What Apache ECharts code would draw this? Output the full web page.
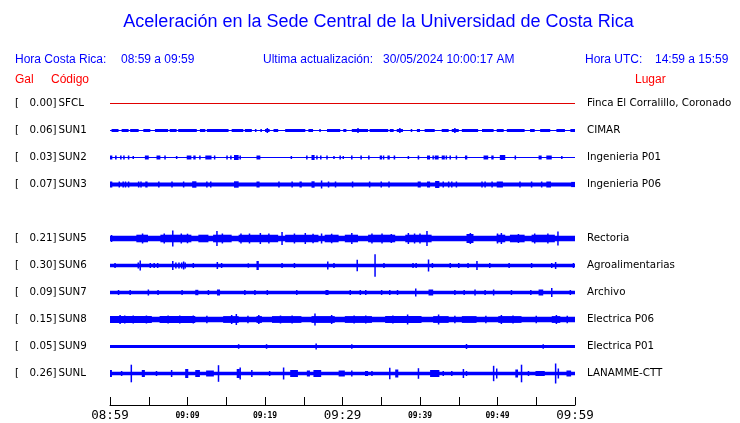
<!DOCTYPE html>
<html><head><meta charset="utf-8">
<script src="https://cdn.jsdelivr.net/npm/echarts@6/dist/echarts.min.js"></script>
<style>html,body{margin:0;padding:0;background:#fff}#c{width:740px;height:423px}</style>
</head><body><div id="c"></div>
<script>
// ---- data ----
const codes = ['SFCL','SUN1','SUN2','SUN3','SUN5','SUN6','SUN7','SUN8','SUN9','SUNL'];
const galPeaks = ['0.00','0.06','0.03','0.07','0.21','0.30','0.09','0.15','0.05','0.26'];
const places = ['Finca El Corralillo, Coronado','CIMAR','Ingenieria P01','Ingenieria P06','Rectoria','Agroalimentarias','Archivo','Electrica P06','Electrica P01','LANAMME-CTT'];
const rowSlots = [0,1,2,3,5,6,7,8,9,10];
const baseAmp = [0.5,0.5,0.5,2,2.7,1.7,1.7,2.7,1.6,1.8];
const timeTicks = ['08:59','09:09','09:19','09:29','09:39','09:49','09:59'];
// bursts: [start,end,amp] (minutes after 08:59) or spikes [t,amp]
const sfclBursts = [];
const sun1Bursts = [[0.2,1.1,1.5],[1.5,2.4,1.5],[2.6,3.7,1.5],[4.3,5.2,1.5],[5.8,7.5,1.5],[7.7,8.6,1.5],[8.8,11.2,1.5],[11.6,12.3,1.5],[12.5,15.3,1.5],[15.7,17.2,1.5],[17.4,18.3,1.5],[18.7,18.9,1.5],[19.4,19.6,1.5],[20.0,20.6,1.5],[21.1,21.7,1.5],[22.6,25.2,1.5],[25.6,26.2,1.5],[27.0,27.2,1.5],[28.0,29.7,1.5],[30.1,30.5,1.5],[31.2,33.3,1.5],[33.5,35.9,1.5],[36.1,36.6,1.5],[37.0,37.8,1.5],[38.8,39.0,1.5],[39.6,40.0,1.5],[40.6,41.9,1.5],[42.8,43.7,1.5],[44.1,45.0,1.5],[45.4,47.5,1.5],[48.0,49.5,1.5],[49.9,50.8,1.5],[51.2,53.5,1.5],[54.2,54.8,1.5],[55.5,56.8,1.5],[57.6,58.7,1.5],[59.4,60,1.5],[20.3,2.5],[32.0,2.5],[37.4,2.5],[44.5,2.5]];
const sun2Bursts = [[0,0.3,2],[0.65,0.86,2],[1.3,1.5,2],[1.7,1.9,2],[2.4,2],[3.0,1.5],[4.5,5.0,2],[6.0,6.5,2],[7.1,2],[8.6,1.5],[9.9,10.5,2],[10.75,11.05,2],[11.6,2],[12.3,13.1,2],[13.5,2],[15.1,2],[15.5,15.7,2],[16.0,16.6,2.5],[16.8,2],[18.9,19.4,2],[23.4,1.5],[25.4,2],[26.0,26.4,2.5],[26.7,2],[27.2,2],[28.0,2],[28.9,1.5],[29.7,2],[30.1,1.5],[31.2,2],[32.3,32.5,2],[33.3,33.5,2],[34.8,35.1,2],[35.3,2],[35.8,36.1,2],[36.6,36.8,2],[38.5,1.5],[39.7,39.9,2],[40.9,41.3,2],[41.7,2],[41.9,42.4,2],[42.8,43.2,2],[43.4,2],[43.9,2],[44.7,2],[45.8,46.1,2],[48.2,48.8,2],[49.2,49.5,2],[50.3,51.0,2.5],[52.3,2],[55.3,55.7,2],[56.3,57.0,2],[58.3,1.5]];
const sun3Bursts = [[0,0.3,3],[1.2,3],[1.7,3],[2.0,3],[2.4,3],[3.7,3],[4.0,3],[4.55,4.85,3],[6.3,3],[8.0,3],[9.5,3],[10.6,11.15,3.2],[12.5,3],[13.0,3],[16.0,16.6,3.2],[18.9,19.3,3],[21.8,3],[23.5,3],[24.45,24.75,3],[26.0,26.4,3.2],[27.3,4],[28.2,3],[29.1,3],[31.3,3],[33.5,3],[35.0,3],[36.0,3],[39.7,40.1,3],[40.9,41.3,3],[41.95,42.5,3.5],[43.0,3],[43.7,3],[44.1,3],[44.7,3],[48.0,3],[48.4,3],[49.3,3],[49.9,50.7,3],[52.9,3],[54.4,3],[55.7,3],[56.3,56.9,3],[59.5,60,2.6]];
const sun5Bursts = [[3.4,4.9,3.8],[6.5,10.5,3.8],[11.4,12.7,3.8],[13.3,15.7,3.8],[16.6,21.7,3.8],[22.6,26.9,3.8],[27.7,29.5,3.8],[30.3,32.0,3.8],[33.3,36.8,3.8],[38.1,41.5,3.8],[46.0,46.9,4.5],[49.9,51.0,3.8],[51.6,53.5,3.8],[54.4,57.4,3.8],[0.2,3.5],[8.1,8],[13.8,7.5],[19.4,5.5],[22.2,6.5],[25.2,5.5],[27.3,5],[31.2,5.5],[36.3,4.5],[38.5,5.5],[40.0,5],[40.9,7.5],[46.5,5.5],[50.5,5.5],[52.7,4.5],[57.8,7],[4.2,5],[7.0,5],[9.2,5],[10.0,4.8],[14.5,5],[16.9,5],[18.0,5],[20.5,5],[23.8,5],[26.2,4.8],[28.6,4.8],[33.8,5],[35.1,5],[39.3,5],[50.0,5],[54.8,5],[56.5,5]];
const sun6Bursts = [[0.65,2.5],[3.55,3.75,3],[3.9,5],[5.2,2.5],[5.7,2.5],[6.15,2.5],[8.1,4.5],[8.5,3],[8.9,3],[9.25,3],[9.5,4],[9.7,3],[10.75,2.5],[13.85,3.5],[14.4,2.5],[17.85,2.2],[18.9,19.2,4.5],[22.2,2.5],[23.8,2.5],[28.1,4],[28.9,2.5],[31.9,5.8],[34.2,11.3],[35.35,2.5],[39.1,2.5],[39.5,2.5],[41.1,6],[41.6,2.5],[43.9,2.5],[45.0,2.5],[46.2,2.5],[47.35,4.5],[49.0,2.5],[51.5,2.5],[54.4,2.5],[57.0,2.5],[57.5,3.5],[59.8,2.5]];
const sun7Bursts = [[1.1,2.5],[2.6,2.5],[4.95,3],[6.2,2.5],[9.3,2.5],[11.0,11.4,2.7],[12.7,2.5],[13.8,14.2,3],[17.4,2.5],[18.7,2.5],[20.3,2.5],[24.1,2.5],[27.8,28.2,2.5],[31.0,2.5],[32.3,2.5],[33.0,2.5],[35.05,2.5],[36.1,2.5],[37.1,2.5],[39.45,4],[41.1,41.7,3],[44.5,2.5],[45.7,2.5],[47.1,3],[48.4,2.5],[49.5,3],[51.8,2.5],[54.3,2.5],[55.3,55.9,3],[57.0,4.5],[59.4,2.5]];
const sun8Bursts = [[0,5.4,3.4],[6.4,11.0,3.4],[14.6,16.6,3.4],[18.9,19.6,3.4],[20.9,24.7,3.4],[26.0,29.0,3.4],[30.3,33.8,3.4],[35.5,40.2,3.4],[41.7,43.7,3.4],[45.4,47.3,3.4],[50.1,53.1,3.4],[57.0,58.1,3.4],[1.3,4.5],[1.9,4],[4.7,4],[10.75,4],[15.7,4.5],[16.3,5.5],[19.2,4.5],[26.45,6],[28.6,4.5],[38.4,5],[42.4,5],[50.5,4.5],[57.6,4.5],[3.0,4],[7.5,4],[9.0,4],[12.5,3.8],[17.8,3.8],[22.0,4],[23.5,4],[31.5,4],[33.0,4],[36.5,4],[44.5,3.8],[48.5,3.8],[52.0,4],[55.0,3.8],[59.0,3.8]];
const sun9Bursts = [[16.6,2.3],[20.2,2.3],[26.6,3],[31.2,2.3],[46.0,2.5],[55.9,2.3]];
const sunlBursts = [[0,0.25,3.5],[1.5,2.5],[2.75,8.8],[4.1,4.5,3.5],[6.0,2.5],[7.95,3.5],[9.7,10.1,4.5],[11.0,11.6,3.5],[12.4,13.4,3],[14.0,8.3],[16.35,16.75,4.5],[16.8,6],[18.3,3.5],[20.6,2.5],[22.4,6],[23.25,24.25,3.5],[25.4,25.8,3],[26.25,27.25,3.5],[29.5,30.3,3],[31.2,3],[32.9,33.3,2.5],[33.8,2.5],[36.1,5.7],[36.8,37.2,4],[39.8,5.3],[41.3,42.5,3.5],[43.0,2.5],[44.1,2.5],[45.6,4.5],[46.0,2.5],[49.5,7.7],[49.9,5],[52.3,52.65,4],[53.1,8.8],[54.0,2.5],[54.9,56.1,2.5],[57.5,10],[57.85,5],[58.9,59.5,3]];
const allBursts = [sfclBursts,sun1Bursts,sun2Bursts,sun3Bursts,sun5Bursts,sun6Bursts,sun7Bursts,sun8Bursts,sun9Bursts,sunlBursts];

// ---- layout/style ----
const ROW = 27;
const BLUE = '#0000ff';
const RED = '#ff0000';
const chart = echarts.init(document.getElementById('c'), null, {renderer:'canvas'});

const traceSeries = codes.map((code, i) => {
  const yRow = rowSlots[i] * ROW;
  const items = [[0, 60, baseAmp[i], yRow]];
  allBursts[i].forEach(b => {
    if (b.length === 2) items.push([b[0], b[0], b[1], yRow]);
    else items.push([b[0], b[1], b[2], yRow]);
  });
  const color = i === 0 ? '#e00000' : BLUE;
  return {
    type: 'custom', name: code, silent: true,
    encode: {x: [0, 1], y: 3},
    data: items,
    renderItem: (params, api) => {
      const s = api.value(0), e = api.value(1), a = api.value(2), y = api.value(3);
      const p0 = api.coord([s, y - a]);
      const p1 = api.coord([e, y + a]);
      let x0 = p0[0], w = p1[0] - p0[0];
      if (w < 1.5) { x0 = (p0[0] + p1[0]) / 2 - 0.75; w = 1.5; }
      const yt = Math.min(p0[1], p1[1]);
      const h = Math.max(1, Math.abs(p1[1] - p0[1]));
      return {type: 'rect', shape: {x: x0, y: yt, width: w, height: h}, style: {fill: color}};
    }
  };
});

const labelSeries = {
  type: 'custom', silent: true,
  encode: {x: 0, y: 1},
  data: codes.map((c, i) => [0, rowSlots[i] * ROW]),
  renderItem: (params, api) => {
    const i = params.dataIndex;
    const y = api.coord([0, api.value(1)])[1];
    const f = '10.3px "DejaVu Sans"';
    return {type: 'group', children: [
      {type: 'text', style: {x: 15, y: y, text: '[', font: f, fill: '#000', verticalAlign: 'middle'}},
      {type: 'text', style: {x: 56.5, y: y, text: galPeaks[i] + ']', font: f, fill: '#000', align: 'right', verticalAlign: 'middle'}},
      {type: 'text', style: {x: 58.5, y: y, text: codes[i], font: f, fill: '#000', verticalAlign: 'middle'}},
      {type: 'text', style: {x: 587, y: y, text: places[i], font: f, fill: '#000', verticalAlign: 'middle'}}
    ]};
  }
};

const hf = '12px "Liberation Sans", Arial, sans-serif';
const option = {
  animation: false,
  backgroundColor: '#fff',
  grid: {left: 110, right: 165, top: 90, bottom: 18, outerBoundsMode: 'none', containLabel: false},
  xAxis: {
    type: 'value', min: 0, max: 60, interval: 5,
    axisLine: {onZero: false, lineStyle: {color: '#000', width: 1}},
    axisTick: {inside: true, length: 8, lineStyle: {color: '#000', width: 1}},
    splitLine: {show: false},
    axisLabel: {
      margin: 4, showMinLabel: true, showMaxLabel: true, hideOverlap: false,
      formatter: v => {
        if (v % 10 !== 0) return '';
        const k = v / 10;
        return (k % 3 === 0) ? '{big|' + timeTicks[k] + '}' : '{small|' + timeTicks[k] + '}';
      },
      rich: {
        big: {fontFamily: 'DejaVu Sans Mono', fontSize: 12.5, color: '#000', verticalAlign: 'middle', lineHeight: 14},
        small: {fontFamily: 'DejaVu Sans Mono', fontSize: 8, fontWeight: 'bold', color: '#000', verticalAlign: 'middle', lineHeight: 14}
      }
    }
  },
  yAxis: {type: 'value', inverse: true, min: -13.5, max: 301.5, show: false},
  graphic: [
    {type: 'text', x: 378.5, y: 22, style: {text: 'Aceleración en la Sede Central de la Universidad de Costa Rica', font: '18px "Liberation Sans", Arial, sans-serif', fill: BLUE, align: 'center', verticalAlign: 'middle'}},
    {type: 'text', x: 15, y: 60, style: {text: 'Hora Costa Rica:', font: hf, fill: BLUE, verticalAlign: 'middle'}},
    {type: 'text', x: 121, y: 60, style: {text: '08:59 a 09:59', font: hf, fill: BLUE, verticalAlign: 'middle'}},
    {type: 'text', x: 263, y: 60, style: {text: 'Ultima actualización:', font: hf, fill: BLUE, verticalAlign: 'middle'}},
    {type: 'text', x: 383, y: 60, style: {text: '30/05/2024 10:00:17 AM', font: hf, fill: BLUE, verticalAlign: 'middle'}},
    {type: 'text', x: 585, y: 60, style: {text: 'Hora UTC:', font: hf, fill: BLUE, verticalAlign: 'middle'}},
    {type: 'text', x: 655, y: 60, style: {text: '14:59 a 15:59', font: hf, fill: BLUE, verticalAlign: 'middle'}},
    {type: 'text', x: 15, y: 80, style: {text: 'Gal', font: hf, fill: RED, verticalAlign: 'middle'}},
    {type: 'text', x: 51, y: 80, style: {text: 'Código', font: hf, fill: RED, verticalAlign: 'middle'}},
    {type: 'text', x: 635, y: 80, style: {text: 'Lugar', font: hf, fill: RED, verticalAlign: 'middle'}}
  ],
  series: traceSeries.concat([labelSeries])
};
chart.setOption(option);
</script>
</body></html>
